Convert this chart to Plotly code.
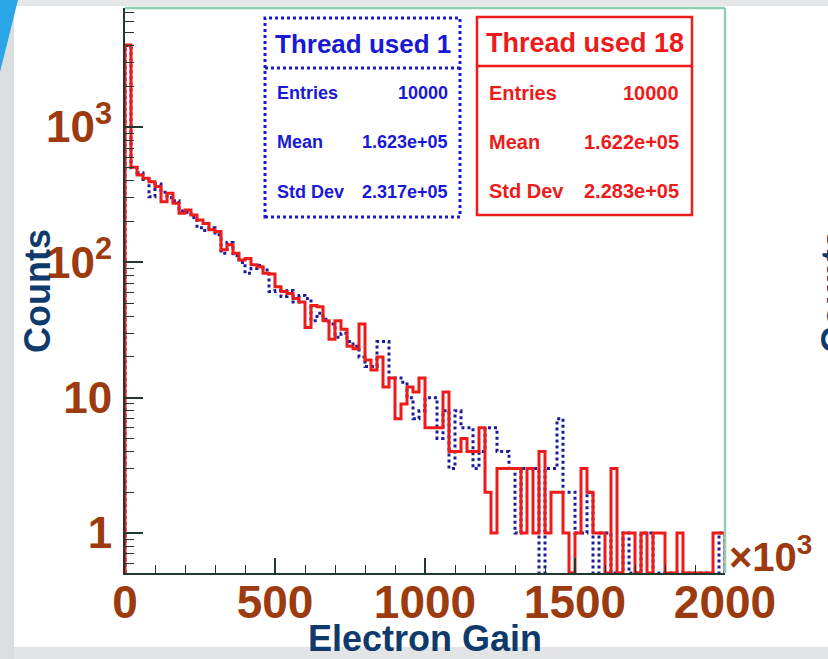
import math
import plotly.graph_objects as go

# ---------------- data (bin contents) ----------------
bin_width = 20          # x units are 10^3 electrons
x_max = 2000
thread18_counts = [
    4050, 505, 443, 418, 395, 363, 281, 324, 273, 231,
    244, 224, 206, 194, 174, 169, 124, 135, 117, 104,
    107, 96, 93, 83, 82, 66, 61, 59, 54, 51,
    33, 48, 47, 37, 27, 37, 32, 24, 23, 35,
    19, 16, 20, 12, 14, 7, 9, 12, 11, 14,
    6, 6, 6, 11, 4, 4, 5, 4, 4, 6,
    2, 1, 3, 3, 3, 3, 1, 3, 1, 4,
    1, 2, 2, 1, 0, 1, 3, 2, 1, 1,
    0, 3, 0, 1, 1, 0, 1, 0, 1, 1,
    0, 0, 1, 0, 0, 0, 0, 0, 1, 1,
]
thread1_counts = [
    4000, 500, 460, 410, 306, 380, 330, 300, 285, 240,
    235, 215, 180, 172, 180, 160, 117, 140, 112, 100,
    83, 90, 95, 88, 61, 62, 56, 62, 51, 57,
    54, 37, 42, 38, 35, 28, 30, 26, 24, 20,
    17, 17, 26, 26, 14, 14, 13, 10, 7, 8,
    10, 10, 5, 8, 3, 8, 6, 6, 3, 4,
    6, 6, 4, 4, 3, 1, 3, 3, 3, 0,
    3, 3, 7, 2, 2, 1, 1, 2, 0, 1,
    1, 0, 0, 1, 0, 0, 1, 1, 0, 0,
    0, 0, 0, 0, 0, 0, 0, 0, 0, 1,
]
stats_thread1 = {"title": "Thread used 1", "Entries": "10000", "Mean": "1.623e+05", "Std Dev": "2.317e+05"}
stats_thread18 = {"title": "Thread used 18", "Entries": "10000", "Mean": "1.622e+05", "Std Dev": "2.283e+05"}
x_tick_vals = [0, 500, 1000, 1500, 2000]
y_tick_vals = [1, 10, 100, 1000]
y_tick_text = ["1", "10", "10<sup>2</sup>", "10<sup>3</sup>"]

# ---------------- styling ----------------
W, H = 828, 659
ML, MR, MT, MB = 125, 103, 8, 86
PW, PH = W - ML - MR, H - MT - MB
YLOG_MIN, YLOG_MAX = -0.2956, 3.88
YMIN = 10 ** YLOG_MIN

BROWN = "#9c3b10"
NAVY = "#0f3a6c"
RED = "#ee1b1b"
BLUE_LINE = "#1c1c96"
BLUE_TXT = "#1818d6"
AXIS = "#22382c"
GREEN = "#8fd0b2"
FONT = "Liberation Sans, Arial, Helvetica, sans-serif"


def px(xp):
    return (xp - ML) / PW


def py(yp):
    return (H - MB - yp) / PH


def step(counts):
    edges = [i * bin_width for i in range(len(counts) + 1)]
    ys = [c if c > 0 else YMIN for c in counts]
    xs = [edges[0]] + edges
    yv = [YMIN] + ys + [YMIN]
    return xs, yv


fig = go.Figure()
xb, yb = step(thread1_counts)
fig.add_trace(go.Scatter(x=xb, y=yb, mode="lines", line_shape="hv",
                         line=dict(color=BLUE_LINE, width=3, dash="dot"),
                         showlegend=False, hoverinfo="skip"))
xr, yr = step(thread18_counts)
fig.add_trace(go.Scatter(x=xr, y=yr, mode="lines", line_shape="hv",
                         line=dict(color=RED, width=3),
                         showlegend=False, hoverinfo="skip"))

minor_y = [m * 10 ** d for d in range(-1, 4) for m in range(2, 10)
           if YLOG_MIN < math.log10(m * 10 ** d) < YLOG_MAX]

fig.update_layout(
    width=W, height=H, autosize=False,
    margin=dict(l=ML, r=MR, t=MT, b=MB, pad=0),
    paper_bgcolor="white", plot_bgcolor="white",
    font=dict(family=FONT),
    xaxis=dict(range=[0, x_max], showgrid=False, zeroline=False,
               showline=True, linecolor=AXIS, linewidth=2,
               tickmode="array", tickvals=x_tick_vals,
               ticktext=[str(v) for v in x_tick_vals],
               ticks="inside", ticklen=15, tickwidth=1.5, tickcolor=AXIS,
               ticklabelstandoff=-12,
               tickfont=dict(family=FONT, size=46, color=BROWN, weight="bold"),
               minor=dict(tickmode="linear", tick0=0, dtick=100, ticks="inside",
                          ticklen=8, tickwidth=1.2, tickcolor=AXIS, showgrid=False)),
    yaxis=dict(type="log", range=[YLOG_MIN, YLOG_MAX], showgrid=False, zeroline=False,
               showline=True, linecolor=AXIS, linewidth=2,
               tickmode="array", tickvals=y_tick_vals, ticktext=y_tick_text,
               ticks="inside", ticklen=18, tickwidth=1.5, tickcolor=AXIS,
               ticklabelstandoff=2,
               tickfont=dict(family=FONT, size=44, color=BROWN, weight="bold"),
               minor=dict(tickmode="array", tickvals=minor_y, ticks="inside",
                          ticklen=9, tickwidth=1.2, tickcolor=AXIS, showgrid=False)),
)

shapes = []
# slide background pieces
shapes.append(dict(type="rect", xref="paper", yref="paper", layer="below",
                   x0=px(0), x1=px(W), y0=py(0), y1=py(6), fillcolor="#e4e6e7", line_width=0))
shapes.append(dict(type="rect", xref="paper", yref="paper", layer="below",
                   x0=px(0), x1=px(W), y0=py(647), y1=py(H), fillcolor="#e2e4e5", line_width=0))
shapes.append(dict(type="rect", xref="paper", yref="paper", layer="below",
                   x0=px(0), x1=px(14), y0=py(0), y1=py(H), fillcolor="#dadee1", line_width=0))
shapes.append(dict(type="path", xref="paper", yref="paper",
                   path=f"M {px(0)},{py(0)} L {px(18)},{py(0)} L {px(0)},{py(72)} Z",
                   fillcolor="#2aa5e6", line_width=0))
# frame: top and right in green
shapes.append(dict(type="line", xref="paper", yref="paper", x0=0, x1=1, y0=1, y1=1,
                   line=dict(color=GREEN, width=2.5)))
shapes.append(dict(type="line", xref="paper", yref="paper", x0=1, x1=1, y0=0, y1=1,
                   line=dict(color=GREEN, width=2.5)))
# stat boxes
shapes.append(dict(type="rect", xref="paper", yref="paper",
                   x0=px(265), x1=px(460), y0=py(217), y1=py(18),
                   fillcolor="white", line=dict(color=BLUE_TXT, width=3, dash="dot")))
shapes.append(dict(type="line", xref="paper", yref="paper",
                   x0=px(265), x1=px(460), y0=py(68), y1=py(68),
                   line=dict(color=BLUE_TXT, width=3, dash="dot")))
shapes.append(dict(type="rect", xref="paper", yref="paper",
                   x0=px(477), x1=px(692), y0=py(215), y1=py(17),
                   fillcolor="white", line=dict(color=RED, width=2.5)))
shapes.append(dict(type="line", xref="paper", yref="paper",
                   x0=px(477), x1=px(692), y0=py(66), y1=py(66),
                   line=dict(color=RED, width=2.5)))
fig.update_layout(shapes=shapes)

ann = []


def text(x, y, s, size, color, xanchor="center", angle=0):
    ann.append(dict(xref="paper", yref="paper", x=px(x), y=py(y), text=f"<b>{s}</b>",
                    showarrow=False, xanchor=xanchor, yanchor="middle", textangle=angle,
                    font=dict(family=FONT, size=size, color=color)))


text(363, 44, stats_thread1["title"], 26, BLUE_TXT)
for i, key in enumerate(["Entries", "Mean", "Std Dev"]):
    yy = 93 + i * 49.5
    text(275, yy, key, 18, BLUE_TXT, "left")
    text(450, yy, stats_thread1[key], 18, BLUE_TXT, "right")

text(585, 43, stats_thread18["title"], 27, RED)
for i, key in enumerate(["Entries", "Mean", "Std Dev"]):
    yy = 93 + i * 49
    text(487, yy, key, 20, RED, "left")
    text(681, yy, stats_thread18[key], 20, RED, "right")

text(425, 638, "Electron Gain", 36, NAVY)
text(37, 291, "Counts", 36, NAVY, angle=-90)
text(834, 291, "Counts", 36, NAVY, angle=-90)
ann.append(dict(xref="paper", yref="paper", x=px(727), y=py(554), xanchor="left", yanchor="middle",
                text="<b>×10<sup>3</sup></b>", showarrow=False,
                font=dict(family=FONT, size=40, color=BROWN)))
fig.update_layout(annotations=ann)

fig.write_html("out.html")
